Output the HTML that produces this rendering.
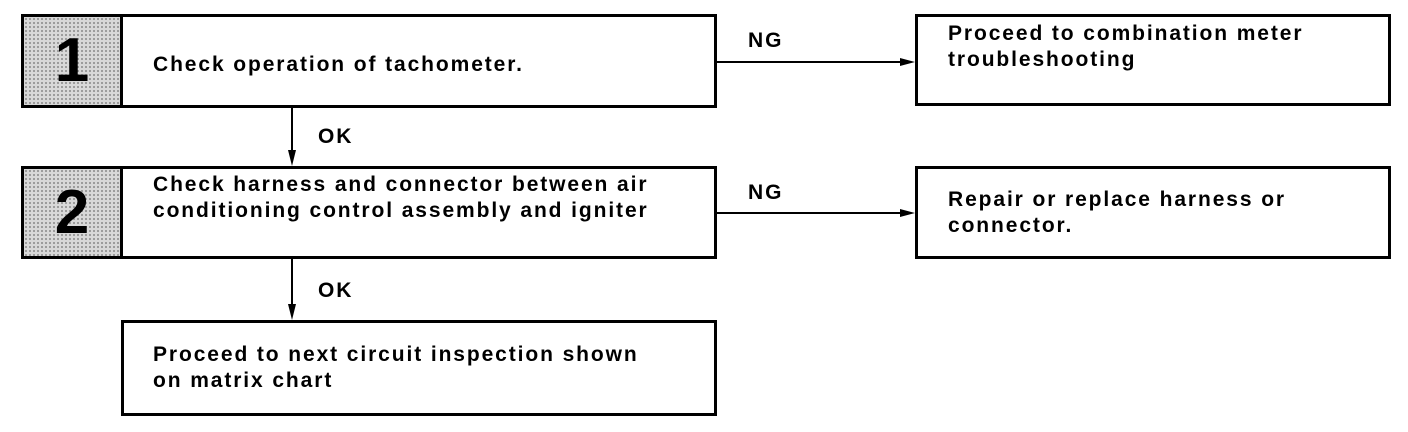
<!DOCTYPE html>
<html><head><meta charset="utf-8"><style>
html,body{margin:0;padding:0;background:#fff;}
body{width:1408px;height:432px;position:relative;overflow:hidden;font-family:"Liberation Sans",Arial,sans-serif;font-weight:bold;color:#000;}
.b{position:absolute;border:3px solid #000;box-sizing:border-box;}
.t{position:absolute;font-size:21px;line-height:26px;letter-spacing:1.9px;white-space:nowrap;}
.num{position:absolute;box-sizing:border-box;border:3px solid #000;background:#d8d8d8;
background-image:radial-gradient(#888 1px,transparent 1px);background-size:4px 4px;
font-size:62px;line-height:88px;text-align:center;font-weight:900;}
</style></head><body>
<div class="b" style="left:21px;top:14px;width:696px;height:94px;"></div>
<div class="num" style="left:21px;top:14px;width:102px;height:94px;">1</div>
<div class="t" style="left:153px;top:52px;">Check operation of tachometer.</div>

<div class="b" style="left:21px;top:166px;width:696px;height:93px;"></div>
<div class="num" style="left:21px;top:166px;width:102px;height:93px;">2</div>
<div class="t" style="left:153px;top:172px;">Check harness and connector between air<br>conditioning control assembly and igniter</div>

<div class="b" style="left:121px;top:320px;width:596px;height:96px;"></div>
<div class="t" style="left:153px;top:342px;">Proceed to next circuit inspection shown<br>on matrix chart</div>

<div class="b" style="left:915px;top:14px;width:476px;height:92px;"></div>
<div class="t" style="left:948px;top:21px;">Proceed to combination meter<br>troubleshooting</div>

<div class="b" style="left:915px;top:166px;width:476px;height:93px;"></div>
<div class="t" style="left:948px;top:187px;">Repair or replace harness or<br>connector.</div>

<div class="t" style="left:748px;top:28px;">NG</div>
<div class="t" style="left:748px;top:180px;">NG</div>
<div class="t" style="left:318px;top:124px;">OK</div>
<div class="t" style="left:318px;top:278px;">OK</div>

<svg width="1408" height="432" style="position:absolute;left:0;top:0">
<g stroke="#000" stroke-width="2" fill="#000">
<line x1="717" y1="62" x2="905" y2="62"/><polygon points="915,62 900,58 900,66" stroke="none"/>
<line x1="717" y1="213" x2="905" y2="213"/><polygon points="915,213 900,209 900,217" stroke="none"/>
<line x1="292" y1="108" x2="292" y2="156"/><polygon points="292,166 288,150 296,150" stroke="none"/>
<line x1="292" y1="259" x2="292" y2="310"/><polygon points="292,320 288,304 296,304" stroke="none"/>
</g></svg>
</body></html>
